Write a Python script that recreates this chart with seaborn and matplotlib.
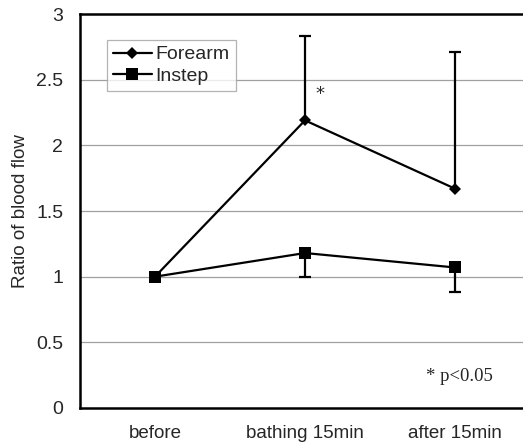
import matplotlib
matplotlib.use("Agg")
import matplotlib.pyplot as plt
import seaborn as sns
import pandas as pd
import numpy as np

categories = ["before", "bathing 15min", "after 15min"]
forearm = [1.0, 2.19, 1.67]
forearm_err_up = [0.0, 0.64, 1.04]
instep = [1.0, 1.18, 1.07]
instep_err_down = [0.0, 0.18, 0.19]
yticks = [0, 0.5, 1, 1.5, 2, 2.5, 3]
ytick_labels = ["0", "0.5", "1", "1.5", "2", "2.5", "3"]

sns.set_theme(style="white")
plt.rcParams['font.family'] = ['Liberation Sans', 'DejaVu Sans']

fig = plt.figure(figsize=(5.23, 4.45), dpi=100)
ax = fig.add_axes([80/523, 37/445, 443/523, 394/445])

x = np.arange(len(categories))
df = pd.DataFrame({
    "x": np.concatenate([x, x]),
    "value": forearm + instep,
    "series": ["Forearm"] * 3 + ["Instep"] * 3,
})

for yv in yticks[1:-1]:
    ax.axhline(yv, color="#a0a0a0", lw=0.9, zorder=0)

eb1 = ax.errorbar(x[1:], forearm[1:], yerr=[[0, 0], forearm_err_up[1:]], fmt="none",
                  ecolor="black", elinewidth=1.6, capsize=4, capthick=1.6, zorder=2)
eb1[1][0].set_visible(False)
eb2 = ax.errorbar(x[1:], instep[1:], yerr=[instep_err_down[1:], [0, 0]], fmt="none",
                  ecolor="black", elinewidth=1.6, capsize=4, capthick=1.6, zorder=2)
eb2[1][1].set_visible(False)

sns.lineplot(data=df, x="x", y="value", hue="series", style="series",
             markers={"Forearm": "D", "Instep": "s"}, dashes=False,
             palette={"Forearm": "black", "Instep": "black"},
             linewidth=1.6, markersize=8, markeredgewidth=0, ax=ax, zorder=3)

for line in ax.get_lines():
    if line.get_marker() == "D":
        line.set_markersize(6.5)

ax.set_xlim(-0.5, 2.5 - 7/150)
ax.set_ylim(0, 3)
ax.set_yticks(yticks)
ax.set_yticklabels(ytick_labels, fontsize=14)
ax.set_xticks(x)
ax.set_xticklabels(categories, fontsize=13.5)
ax.set_xticks([0.5, 1.5], minor=True)
ax.tick_params(axis="x", which="major", length=0, pad=12)
ax.tick_params(axis="x", which="minor", length=5, direction="in", color="#a0a0a0", width=0.8)
ax.tick_params(axis="y", length=0, pad=12)
ax.set_xlabel("")
ax.set_ylabel("Ratio of blood flow", fontsize=13.5, labelpad=5)

for s in ["left", "bottom", "top"]:
    ax.spines[s].set_color("black")
    ax.spines[s].set_linewidth(1.8)
ax.spines["right"].set_visible(False)

ax.text(1.1, 2.39, "*", fontsize=13, ha="center", va="center", family="DejaVu Sans")
ax.text(2.03, 0.24, "* p<0.05", fontsize=13.5, ha="center", va="center", family="Liberation Serif")

handles, labels = ax.get_legend_handles_labels()
leg = ax.legend(handles, labels, loc="upper left", bbox_to_anchor=(27/443, 1 - 26/394),
                fontsize=14, frameon=True, fancybox=False, handlelength=2.0,
                borderpad=0.3, labelspacing=0.2, handletextpad=0.2, borderaxespad=0)
leg.get_frame().set_edgecolor("#a0a0a0")
leg.get_frame().set_linewidth(0.9)

fig.savefig("out.png", dpi=100)
